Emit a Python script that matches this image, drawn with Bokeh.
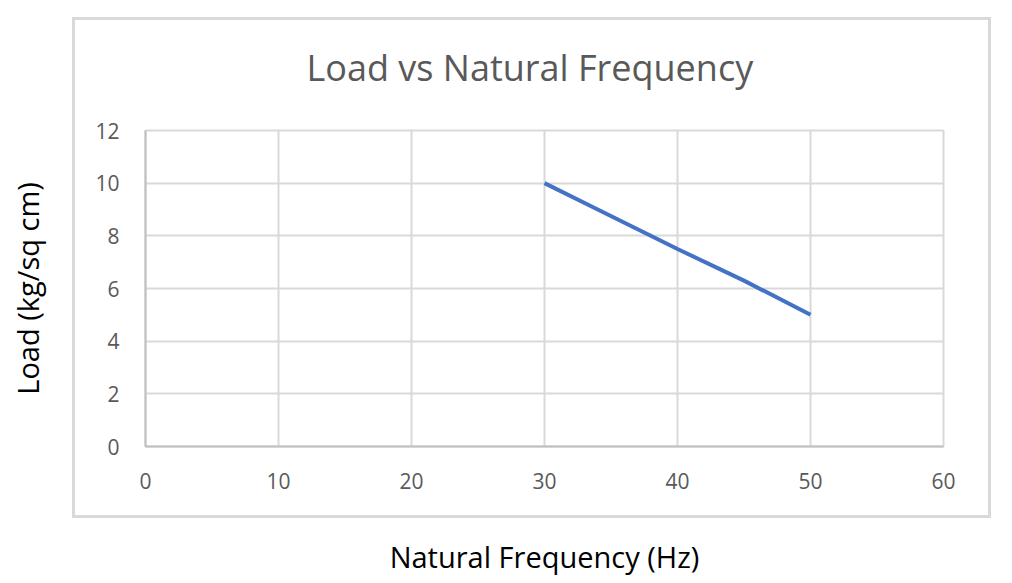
from bokeh.plotting import figure
from bokeh.models import FixedTicker, Range1d
from bokeh.embed import file_html
from bokeh.resources import INLINE

# Data
frequency = [30, 34, 40, 45, 50]
load = [10, 9.0, 7.5, 6.3, 5.0]
x_ticks = [0, 10, 20, 30, 40, 50, 60]
y_ticks = [0, 2, 4, 6, 8, 10, 12]

FONT = "Open Sans"
BORDER = "#d9d9d9"

# chart-area border drawn as CSS background of the figure host
bg = ", ".join([
    f"linear-gradient({BORDER},{BORDER}) 72px 17px / 919px 3px no-repeat",
    f"linear-gradient({BORDER},{BORDER}) 72px 515px / 919px 3px no-repeat",
    f"linear-gradient({BORDER},{BORDER}) 72px 17px / 3px 501px no-repeat",
    f"linear-gradient({BORDER},{BORDER}) 988px 17px / 3px 501px no-repeat",
    "white",
])

p = figure(width=1012, height=583, output_backend="svg", toolbar_location=None,
           x_range=Range1d(0, 60), y_range=Range1d(0, 12),
           min_border_left=145, min_border_right=69, min_border_top=130, min_border_bottom=137,
           border_fill_color=None, background_fill_color="white",
           styles={"background": bg})

p.line(frequency, load, line_color="#4472C4", line_width=4)

# Title
p.title.text = "Load vs Natural Frequency"
p.title.text_font = FONT
p.title.text_font_size = "36px"
p.title.text_font_style = "normal"
p.title.text_color = "#595959"
p.title.align = "left"
p.title.offset = 161
p.title.standoff = 77

# Axes
for ax in (p.xaxis[0], p.yaxis[0]):
    ax.major_tick_line_color = None
    ax.minor_tick_line_color = None
    ax.major_tick_out = 0
    ax.major_tick_in = 0
    ax.minor_tick_out = 0
    ax.major_label_text_font = FONT
    ax.major_label_text_font_size = "21px"
    ax.major_label_text_color = "#595959"
    ax.axis_line_color = "#bfbfbf"
    ax.axis_line_width = 2
    ax.axis_label_text_font = FONT
    ax.axis_label_text_font_size = "29px"
    ax.axis_label_text_font_style = "normal"
    ax.axis_label_text_color = "#000000"

p.xaxis.ticker = FixedTicker(ticks=x_ticks)
p.yaxis.ticker = FixedTicker(ticks=y_ticks)
p.xaxis.major_label_standoff = 26
p.yaxis.major_label_standoff = 26

p.yaxis.axis_label = "Load (kg/sq cm)"
p.yaxis.axis_label_standoff = 45
p.xaxis.axis_label = "Natural Frequency (Hz)"
p.xaxis.axis_label_standoff = 45

# Grid
p.xgrid.grid_line_color = "#d9d9d9"
p.ygrid.grid_line_color = "#d9d9d9"
p.xgrid.grid_line_width = 2
p.ygrid.grid_line_width = 2
p.outline_line_color = "#d9d9d9"
p.outline_line_width = 2

open("out.html", "w").write(file_html(p, INLINE))
